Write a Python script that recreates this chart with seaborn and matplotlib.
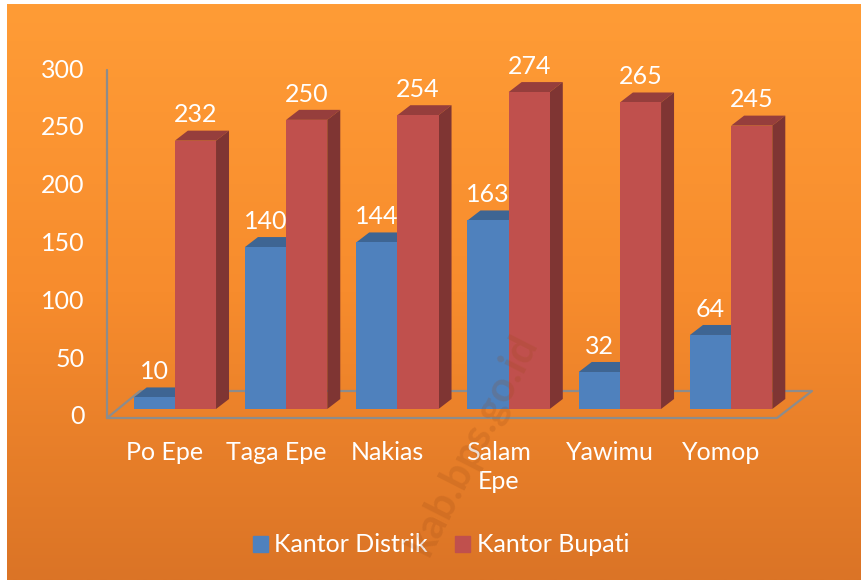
import numpy as np
import pandas as pd
import seaborn as sns
import matplotlib.pyplot as plt
import matplotlib.transforms as mtransforms
from matplotlib.patches import Polygon
from matplotlib.colors import LinearSegmentedColormap, to_rgb

# data
districts = ['Po Epe', 'Taga Epe', 'Nakias', 'Salam\nEpe', 'Yawimu', 'Yomop']
kantor_distrik = [10, 140, 144, 163, 32, 64]
kantor_bupati = [232, 250, 254, 274, 265, 245]
series_names = ['Kantor Distrik', 'Kantor Bupati']
y_ticks = [0, 50, 100, 150, 200, 250, 300]

df = pd.DataFrame({
    'district': districts * 2,
    'series': [series_names[0]] * len(districts) + [series_names[1]] * len(districts),
    'value': kantor_distrik + kantor_bupati,
})

sns.set_theme(style='white')
plt.rcParams['font.family'] = ['Lato', 'DejaVu Sans']
FS = 18

W, H = 863, 584
fig = plt.figure(figsize=(W / 100, H / 100), dpi=100)
fig.patch.set_facecolor('white')

# orange gradient panel
bg = fig.add_axes([7 / W, 4 / H, (W - 10) / W, (H - 8) / H])
grad = np.linspace(0, 1, 256).reshape(-1, 1)
cmap = LinearSegmentedColormap.from_list('bg', ['#FF9C36', '#F78C2D', '#DB7426'])
bg.imshow(grad, aspect='auto', cmap=cmap, extent=[0, 1, 0, 1], origin='upper')
bg.axis('off')

# plot area in pixel terms
left_px, right_px, base_px, top_px = 107, 799, 409, 62
ax = fig.add_axes([left_px / W, (H - base_px) / H, (right_px - left_px) / W, (base_px - top_px) / H])
ax.patch.set_alpha(0)

sns.barplot(data=df, x='district', y='value', hue='series',
            palette=['#4F81BD', '#C0504D'], width=0.74, gap=0,
            saturation=1, ax=ax, legend=False)

ax.set_xlim(-0.61, len(districts) - 0.39)
ax.set_ylim(0, 300)
px = (ax.get_xlim()[1] - ax.get_xlim()[0]) / (right_px - left_px)
py = 300 / (base_px - top_px)

# fake 3D depth faces
dx, dy = 13 * px, 10 * py
for p in ax.patches:
    x0, w, h = p.get_x(), p.get_width(), p.get_height()
    c = np.array(to_rgb(p.get_facecolor()))
    p.set_zorder(3)
    p.set_edgecolor('none')
    top = Polygon([(x0, h), (x0 + w, h), (x0 + w + dx, h + dy), (x0 + dx, h + dy)],
                  closed=True, facecolor=c * 0.78, edgecolor='none', zorder=2)
    side = Polygon([(x0 + w, 0), (x0 + w + dx, dy), (x0 + w + dx, h + dy), (x0 + w, h)],
                   closed=True, facecolor=c * 0.66, edgecolor='none', zorder=2)
    ax.add_patch(top)
    ax.add_patch(side)
    ax.annotate(f'{int(round(h))}', (x0 + w / 2, h + dy), xytext=(0, 3),
                textcoords='offset points', ha='center', va='bottom',
                color='white', fontsize=FS, zorder=5)

# floor and vertical axis
x_l = ax.get_xlim()[0]
fy0, fy1 = -9 * py, 18 * py
floor_x = [x_l, (777 - left_px) * px + x_l, (812 - left_px) * px + x_l, (140 - left_px) * px + x_l, x_l]
floor_y = [fy0, fy0, fy1, fy1, fy0]
ax.plot(floor_x, floor_y, color='#8C8C8C', lw=1.6, clip_on=False, zorder=1)
ax.plot([x_l, x_l], [fy0, (base_px - 70) * py], color='#8C8C8C', lw=1.6, clip_on=False, zorder=1)

for s in ax.spines.values():
    s.set_visible(False)
ax.set_xlabel('')
ax.set_ylabel('')
ax.set_yticks(y_ticks)
ax.tick_params(axis='y', length=0, pad=16, labelsize=FS, labelcolor='white')
ax.tick_params(axis='x', length=0, pad=23, labelsize=FS, labelcolor='white')
for lab in ax.get_yticklabels():
    lab.set_transform(lab.get_transform() + mtransforms.ScaledTranslation(0, -0.06, fig.dpi_scale_trans))
for lab in ax.get_xticklabels():
    lab.set_multialignment('center')
    lab.set_linespacing(1.3)
    lab.set_transform(lab.get_transform() + mtransforms.ScaledTranslation(-0.1, 0, fig.dpi_scale_trans))

# legend
handles = [plt.Rectangle((0, 0), 1, 1, color=c) for c in ['#4F81BD', '#C0504D']]
fig.legend(handles, series_names, loc='center', bbox_to_anchor=(441 / W, 1 - 545 / H),
           ncol=2, frameon=False, fontsize=FS, labelcolor='white',
           handlelength=0.6, handleheight=0.6, handletextpad=0.25, columnspacing=1.1)

# watermark
fig.text(472 / W, 1 - 445 / H, 'kab.bps.go.id', rotation=63, ha='center', va='center',
         fontsize=30, fontweight='bold', color='#9A4A15', alpha=0.2, zorder=10)

fig.savefig('out.png', dpi=100)
